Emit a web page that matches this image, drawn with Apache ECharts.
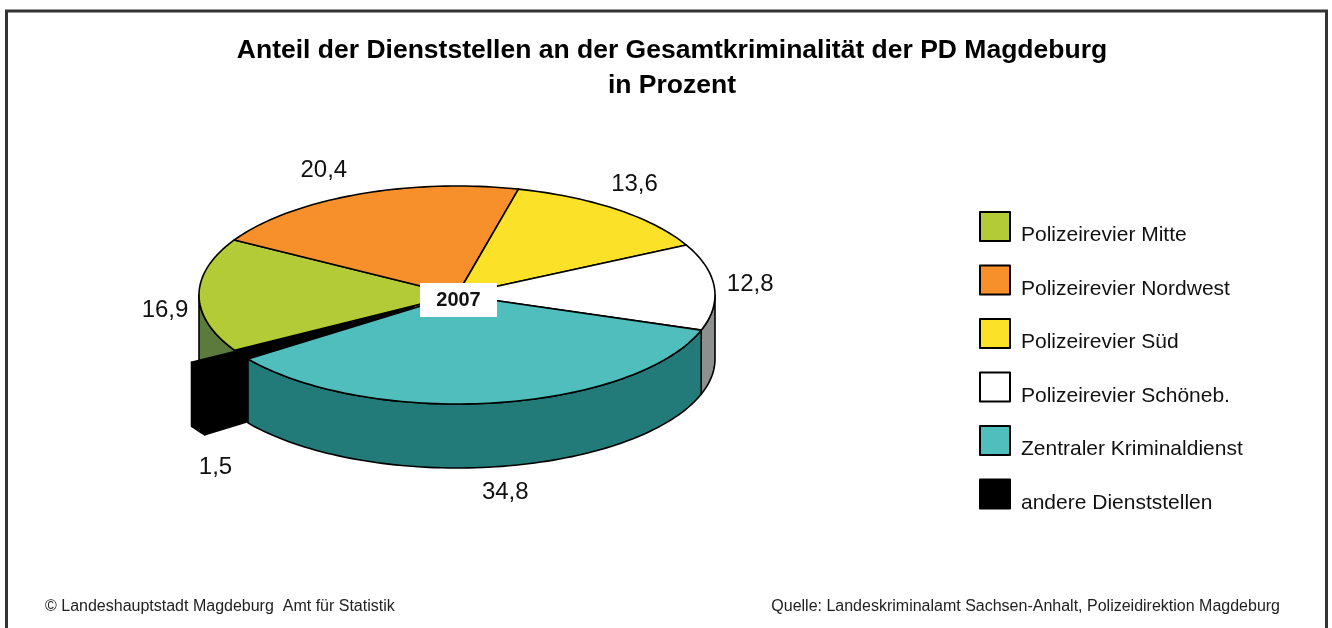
<!DOCTYPE html>
<html><head><meta charset="utf-8">
<script src="https://cdn.jsdelivr.net/npm/echarts@6/dist/echarts.min.js"></script>
<style>html,body{margin:0;padding:0;background:#fff}#c{width:1332px;height:628px}</style>
</head><body><div id="c"></div>
<script>
// ---- data ----
const categories = ['Polizeirevier Mitte', 'Polizeirevier Nordwest', 'Polizeirevier Süd', 'Polizeirevier Schöneb.', 'Zentraler Kriminaldienst', 'andere Dienststellen'];
const values = [16.9, 20.4, 13.6, 12.8, 34.8, 1.5];
const valueLabels = ['16,9', '20,4', '13,6', '12,8', '34,8', '1,5'];
const yearLabel = '2007';
const titleLines = ['Anteil der Dienststellen an der Gesamtkriminalität der PD Magdeburg', 'in Prozent'];
const footerLeft = '© Landeshauptstadt Magdeburg  Amt für Statistik';
const footerRight = 'Quelle: Landeskriminalamt Sachsen-Anhalt, Polizeidirektion Magdeburg';

// ---- style / layout ----
const FONT = '"Liberation Sans", Arial, Helvetica, sans-serif';
const topColors = ['#B4CB38', '#F7902A', '#FBE228', '#FFFFFF', '#4FBEBC', '#000000'];
const sideColors = ['#5B7B3D', '#A65F1C', '#A89816', '#8E8F8F', '#237B79', '#000000'];
const explode = [0, 0, 0, 0, 0, 0.2];
const labelNudge = [[6, 15], [-17, 3], [-7, -1], [-4, 0], [4, -3], [51, 49]];
const PIE = { cx: 457, cy: 295, rx: 258, ry: 109, depth: 64, start: 239.5 };

const total = values.reduce((a, b) => a + b, 0);
const slices = [];
let acc = PIE.start;
values.forEach(v => { const a0 = acc, a1 = acc + v / total * 360; acc = a1; slices.push({ a0, a1 }); });

function pt(a, ox, oy, dz) {
  const r = a * Math.PI / 180;
  return [PIE.cx + ox + PIE.rx * Math.sin(r), PIE.cy + oy - PIE.ry * Math.cos(r) + (dz || 0)];
}
function arc(a0, a1, ox, oy, dz) {
  const n = Math.max(2, Math.ceil(Math.abs(a1 - a0) / 1.5));
  const pts = [];
  for (let k = 0; k <= n; k++) pts.push(pt(a0 + (a1 - a0) * k / n, ox, oy, dz));
  return pts;
}

function renderItem(params, api) {
  const i = params.dataIndex;
  const a0 = slices[i].a0, a1 = slices[i].a1;
  const mid = (a0 + a1) / 2, mr = mid * Math.PI / 180;
  const e = explode[i];
  const ox = e * PIE.rx * Math.sin(mr), oy = -e * PIE.ry * Math.cos(mr);
  const D = PIE.depth;
  const lineStyle = { stroke: '#000', lineWidth: 1.6, lineJoin: 'round' };
  const children = [];
  const ranges = [];
  [[90, 270], [450, 630]].forEach(([s, t]) => {
    const lo = Math.max(a0, s), hi = Math.min(a1, t);
    if (hi > lo) ranges.push([lo, hi]);
  });
  let base = 0;
  if (ranges.length) { const vm = ((ranges[0][0] + ranges[0][1]) / 2) % 360; base = 100 - Math.abs(vm - 180); }
  const c0 = [PIE.cx + ox, PIE.cy + oy];
  const faceAt = a => { const p = pt(a, ox, oy, 0); return [c0, p, [p[0], p[1] + D], [c0[0], c0[1] + D]]; };
  const na0 = ((a0 % 360) + 360) % 360, na1 = ((a1 % 360) + 360) % 360;
  if (na0 > 180 && na0 < 360) children.push({ type: 'polygon', z2: base - 0.5, shape: { points: faceAt(a0) }, style: Object.assign({ fill: sideColors[i] }, lineStyle) });
  if (na1 > 0 && na1 < 180) children.push({ type: 'polygon', z2: base - 0.5, shape: { points: faceAt(a1) }, style: Object.assign({ fill: sideColors[i] }, lineStyle) });
  ranges.forEach(([lo, hi]) => {
    const top = arc(lo, hi, ox, oy, 0), bot = arc(hi, lo, ox, oy, D);
    children.push({ type: 'polygon', z2: base, shape: { points: top.concat(bot) }, style: Object.assign({ fill: sideColors[i] }, lineStyle) });
  });
  children.push({ type: 'polygon', z2: 200, shape: { points: [c0].concat(arc(a0, a1, ox, oy, 0)) }, style: Object.assign({ fill: topColors[i] }, lineStyle) });
  const s = Math.sin(mr), c = Math.cos(mr);
  const lx = PIE.cx + ox + (PIE.rx + 40) * s + labelNudge[i][0];
  const ly = PIE.cy + oy - (PIE.ry + 30) * c + D * Math.max(0, -c) + labelNudge[i][1];
  children.push({ type: 'text', z2: 300, x: lx, y: ly, style: { text: valueLabels[i], fontSize: 24, fontFamily: FONT, fill: '#111', align: 'center', verticalAlign: 'middle' } });
  return { type: 'group', children };
}

const chart = echarts.init(document.getElementById('c'), null, { renderer: 'canvas' });
chart.setOption({
  animation: false,
  backgroundColor: '#fff',
  title: {
    text: titleLines.join('\n'), left: 672, top: 33, textAlign: 'center', padding: 0,
    textStyle: { fontSize: 26.5, fontWeight: 'bold', fontFamily: FONT, color: '#000', lineHeight: 35 }
  },
  legend: {
    orient: 'vertical', left: 979, top: 211, padding: 0, itemWidth: 30, itemHeight: 29, itemGap: 18.5,
    icon: 'rect', selectedMode: false,
    itemStyle: { borderColor: '#000', borderWidth: 2 },
    formatter: '{t|{name}}',
    textStyle: { fontSize: 21, color: '#111', fontFamily: FONT,
      rich: { t: { fontSize: 21, color: '#111', fontFamily: FONT, padding: [18, 0, 0, 6] } } },
    data: categories
  },
  graphic: [
    { type: 'polyline', z: 100, shape: { points: [[6.5, 640], [6.5, 11], [1326.5, 11], [1326.5, 640]] }, style: { stroke: '#333', lineWidth: 3, fill: null } },
    { type: 'rect', z: 100, shape: { x: 420, y: 283, width: 77, height: 34 }, style: { fill: '#fff' } },
    { type: 'text', z: 101, x: 458.5, y: 300, style: { text: yearLabel, fontSize: 20, fontWeight: 'bold', fontFamily: FONT, fill: '#111', align: 'center', verticalAlign: 'middle' } },
    { type: 'text', z: 100, x: 45, y: 607, style: { text: footerLeft, fontSize: 16, fontFamily: FONT, fill: '#222', align: 'left', verticalAlign: 'middle' } },
    { type: 'text', z: 100, x: 1280, y: 607, style: { text: footerRight, fontSize: 16, fontFamily: FONT, fill: '#222', align: 'right', verticalAlign: 'middle' } }
  ],
  series: [
    {
      type: 'custom', coordinateSystem: 'none', renderItem: renderItem, silent: true,
      data: categories.map((n, i) => ({ name: n, value: values[i] }))
    },
    {
      type: 'pie', radius: [0, 0], center: [-100, -100], silent: true,
      label: { show: false }, labelLine: { show: false },
      data: categories.map((n, i) => ({ name: n, value: values[i], itemStyle: { color: topColors[i] } }))
    }
  ]
});
</script></body></html>
